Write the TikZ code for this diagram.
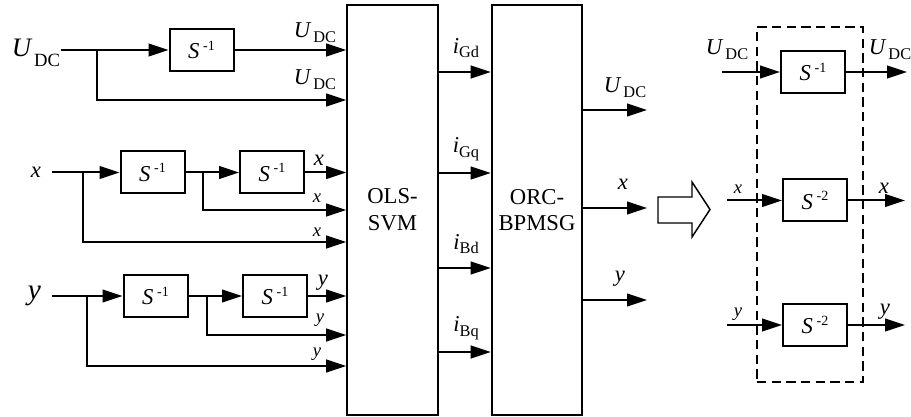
\documentclass[tikz,border=0pt]{standalone}
\usepackage{fontspec}
\setmainfont{Liberation Serif}
\usepackage{graphicx}
\usetikzlibrary{arrows.meta}

\newcommand{\lo}[1]{\raisebox{-0.45ex}{\scalebox{0.72}{#1}}}
\newcommand{\hi}[1]{\raisebox{0.85ex}{\scalebox{0.62}{#1}}}
\newcommand{\Udc}{\textit{U}\kern1.5pt\lo{DC}}
\newcommand{\Sdel}[1]{\textit{S}\,\hi{-#1}}

\begin{document}
\begin{tikzpicture}[x=0.75pt,y=-0.75pt,line width=1.5pt,
    >={Triangle[length=15pt,width=9.5pt]},
    font=\fontsize{17}{20}\selectfont,
    dly/.style={draw,inner sep=0pt,minimum width=48pt,minimum height=31.5pt},
    big/.style={draw,inner sep=0pt,align=center,minimum width=68pt,minimum height=307.5pt},
    small/.style={font=\fontsize{14}{16}\selectfont},
    large/.style={font=\fontsize{22}{24}\selectfont}]
    \useasboundingbox (0,0) rectangle (911,417);

    \node[big] (ols) at (392.5,210) {OLS-\\SVM};
    \node[big] (orc) at (537,210) {ORC-\\BPMSG};

    \node[anchor=base west,inner sep=0pt,font=\fontsize{20}{22}\selectfont] (udcin) at (11,57)
        {\textit{U}\kern1pt\raisebox{-7pt}{\fontsize{14}{14}\selectfont DC}};
    \coordinate (bu) at (97,50);
    \node[dly] (du) at (201.5,50) {\Sdel{1}};
    \draw (udcin.east |- bu) -- (bu);
    \draw[->] (bu) -- (du);
    \draw[->] (du) -- (du -| ols.west);
    \draw[->] (bu) |- (ols.west |- 0,100);
    \node (lu1) at (315,33) {\Udc};
    \node (lu2) at (315,80) {\Udc};

    \node[anchor=east,inner xsep=7.5pt] (xin) at (52,172.5) {\textit{x}};
    \coordinate (bx1) at (83,172.5);
    \coordinate (bx2) at (203,172.5);
    \node[dly] (dx1) at (152.5,172.5) {\Sdel{1}};
    \node[dly] (dx2) at (272,172.5) {\Sdel{1}};
    \draw (xin.east) -- (bx1);
    \draw[->] (bx1) -- (dx1);
    \draw (dx1) -- (bx2);
    \draw[->] (bx2) -- (dx2);
    \draw[->] (dx2) -- (dx2 -| ols.west);
    \draw[->] (bx2) |- (ols.west |- 0,210);
    \draw[->] (bx1) |- (ols.west |- 0,242);
    \node (lx1) at (319,160) {\textit{x}};
    \node[small] (lx2) at (317,198) {\textit{x}};
    \node[small] (lx3) at (317,232) {\textit{x}};

    \node[large,anchor=east,inner xsep=7.5pt] (yin) at (52,296) {\textit{y}};
    \coordinate (by1) at (87,296);
    \coordinate (by2) at (207,296);
    \node[dly] (dy1) at (155.5,296) {\Sdel{1}};
    \node[dly] (dy2) at (275,296) {\Sdel{1}};
    \draw (yin.east) -- (by1);
    \draw[->] (by1) -- (dy1);
    \draw (dy1) -- (by2);
    \draw[->] (by2) -- (dy2);
    \draw[->] (dy2) -- (dy2 -| ols.west);
    \draw[->] (by2) |- (ols.west |- 0,335);
    \draw[->] (by1) |- (ols.west |- 0,366);
    \node (ly1) at (323,283) {\textit{y}};
    \node[small] (ly2) at (320,320) {\textit{y}};
    \node[small] (ly3) at (317,354) {\textit{y}};

    \foreach \y/\s in {72/Gd,173/Gq,268/Bd,352/Bq}{
        \draw[->] (ols.east |- 0,\y) -- (orc.west |- 0,\y);
        \node (i\s) at (466,\y-24) {\textit{i}\lo{\s}};
    }

    \foreach \n/\y in {u/110,x/208,y/300}{
        \coordinate (o\n) at (647,\y);
        \draw[->] (orc.east |- o\n) -- (o\n);
    }
    \node (lou) at (625,88) {\Udc};
    \node (lox) at (623,184) {\textit{x}};
    \node (loy) at (620,279) {\textit{y}};

    \draw[line width=1.1pt] (658,197) -- (692,197) -- (692,182) -- (710,209.5)
        -- (692,237) -- (692,223) -- (658,223) -- cycle;

    \node[draw,dash pattern=on 7pt off 4pt,minimum width=79.5pt,minimum height=266.25pt]
        (grp) at (810,204.5) {};
    \node[dly] (r1) at (813,72) {\Sdel{1}};
    \node[dly] (r2) at (815,200.5) {\Sdel{2}};
    \node[dly] (r3) at (815,325) {\Sdel{2}};
    \coordinate (r1i) at (722,72);
    \coordinate (r1o) at (907,72);
    \coordinate (r2i) at (727,200.5);
    \coordinate (r2o) at (905,200.5);
    \coordinate (r3i) at (727,325);
    \coordinate (r3o) at (905,325);
    \foreach \r in {r1,r2,r3}{
        \draw[->] (\r i) -- (\r);
        \draw[->] (\r) -- (\r o);
    }
    \node (lr1i) at (727,50) {\Udc};
    \node (lr1o) at (890,50) {\Udc};
    \node[small] (lr2i) at (738,189) {\textit{x}};
    \node (lr2o) at (884,188) {\textit{x}};
    \node[small] (lr3i) at (738,314) {\textit{y}};
    \node (lr3o) at (885,312) {\textit{y}};
\end{tikzpicture}
\end{document}
